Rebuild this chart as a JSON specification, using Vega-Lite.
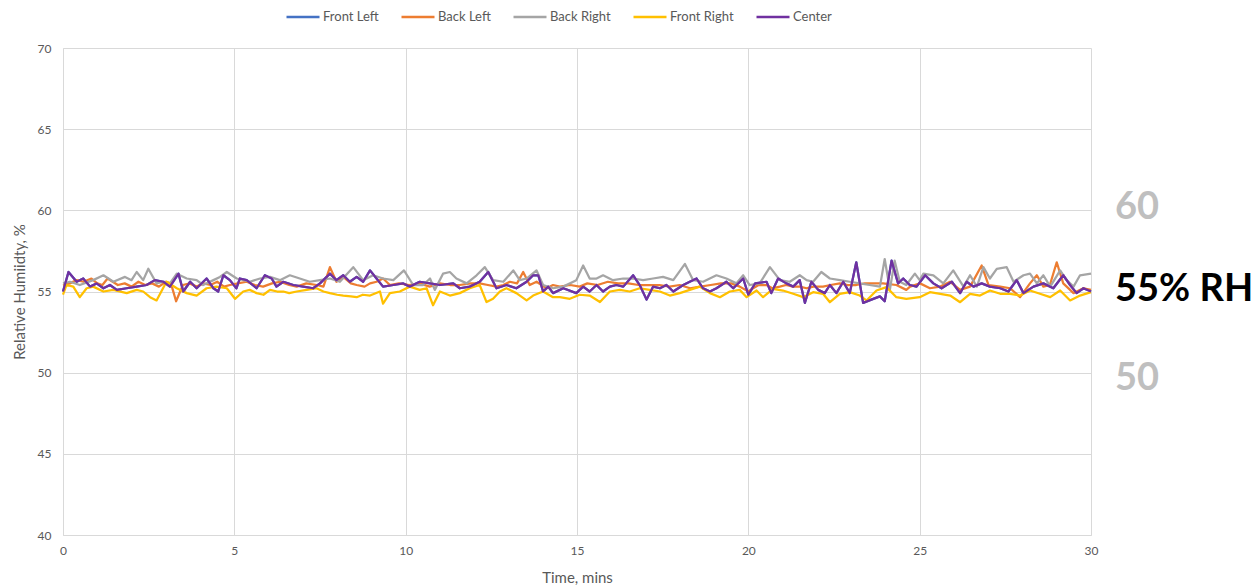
{
"$schema":"https://vega.github.io/schema/vega-lite/v6.json",
"width":1028,"height":487,
"autosize":{"type":"none"},
"padding":{"left":63,"top":48,"right":163,"bottom":52},
"background":"white",
"config":{"font":"Lato","view":{"stroke":null}},
"datasets":{
"Center":[{"t":0,"v":55.0},{"t":0.16,"v":56.2},{"t":0.4,"v":55.6},{"t":0.59,"v":55.8},{"t":0.79,"v":55.3},{"t":0.98,"v":55.5},{"t":1.18,"v":55.2},{"t":1.37,"v":55.4},{"t":1.57,"v":55.1},{"t":1.86,"v":55.2},{"t":2.15,"v":55.3},{"t":2.44,"v":55.4},{"t":2.68,"v":55.7},{"t":2.93,"v":55.6},{"t":3.12,"v":55.3},{"t":3.37,"v":56.1},{"t":3.51,"v":55.0},{"t":3.71,"v":55.6},{"t":3.9,"v":55.2},{"t":4.19,"v":55.8},{"t":4.39,"v":55.2},{"t":4.53,"v":55.0},{"t":4.68,"v":56.0},{"t":4.87,"v":55.7},{"t":5.06,"v":55.2},{"t":5.16,"v":55.8},{"t":5.36,"v":55.7},{"t":5.65,"v":55.2},{"t":5.89,"v":56.0},{"t":6.09,"v":55.8},{"t":6.23,"v":55.3},{"t":6.43,"v":55.6},{"t":6.72,"v":55.4},{"t":7.01,"v":55.3},{"t":7.3,"v":55.2},{"t":7.5,"v":55.5},{"t":7.79,"v":56.1},{"t":7.98,"v":55.7},{"t":8.18,"v":56.0},{"t":8.37,"v":55.6},{"t":8.57,"v":55.9},{"t":8.76,"v":55.6},{"t":8.96,"v":56.3},{"t":9.15,"v":55.8},{"t":9.34,"v":55.3},{"t":9.64,"v":55.4},{"t":9.93,"v":55.5},{"t":10.12,"v":55.3},{"t":10.41,"v":55.6},{"t":10.71,"v":55.5},{"t":11.0,"v":55.4},{"t":11.39,"v":55.5},{"t":11.58,"v":55.2},{"t":11.87,"v":55.3},{"t":12.16,"v":55.6},{"t":12.41,"v":56.2},{"t":12.65,"v":55.2},{"t":12.94,"v":55.4},{"t":13.23,"v":55.2},{"t":13.53,"v":55.6},{"t":13.72,"v":56.0},{"t":13.87,"v":56.0},{"t":14.01,"v":55.0},{"t":14.16,"v":55.3},{"t":14.3,"v":54.9},{"t":14.6,"v":55.2},{"t":14.98,"v":54.9},{"t":15.18,"v":55.3},{"t":15.37,"v":55.0},{"t":15.57,"v":55.4},{"t":15.76,"v":55.0},{"t":15.96,"v":55.3},{"t":16.15,"v":55.4},{"t":16.35,"v":55.3},{"t":16.64,"v":56.0},{"t":16.83,"v":55.4},{"t":17.03,"v":54.5},{"t":17.22,"v":55.3},{"t":17.42,"v":55.2},{"t":17.61,"v":55.4},{"t":17.81,"v":55.0},{"t":18.1,"v":55.4},{"t":18.29,"v":55.6},{"t":18.49,"v":55.8},{"t":18.68,"v":55.2},{"t":18.88,"v":55.0},{"t":19.07,"v":55.2},{"t":19.36,"v":55.6},{"t":19.56,"v":55.2},{"t":19.85,"v":55.8},{"t":20.0,"v":54.8},{"t":20.2,"v":55.5},{"t":20.53,"v":55.6},{"t":20.67,"v":54.9},{"t":20.87,"v":55.8},{"t":21.11,"v":55.5},{"t":21.31,"v":55.3},{"t":21.5,"v":55.7},{"t":21.65,"v":54.3},{"t":21.84,"v":55.6},{"t":22.04,"v":55.1},{"t":22.23,"v":54.9},{"t":22.38,"v":55.4},{"t":22.57,"v":54.9},{"t":22.77,"v":55.6},{"t":22.96,"v":54.9},{"t":23.15,"v":56.8},{"t":23.35,"v":54.3},{"t":23.59,"v":54.5},{"t":23.84,"v":54.7},{"t":23.98,"v":54.4},{"t":24.18,"v":56.9},{"t":24.37,"v":55.5},{"t":24.52,"v":55.8},{"t":24.71,"v":55.4},{"t":24.91,"v":55.3},{"t":25.16,"v":56.0},{"t":25.4,"v":55.5},{"t":25.64,"v":55.2},{"t":25.94,"v":55.6},{"t":26.18,"v":54.9},{"t":26.37,"v":55.6},{"t":26.57,"v":55.3},{"t":26.81,"v":55.5},{"t":27.05,"v":55.3},{"t":27.35,"v":55.2},{"t":27.59,"v":55.0},{"t":27.83,"v":55.7},{"t":28.03,"v":54.9},{"t":28.32,"v":55.3},{"t":28.61,"v":55.5},{"t":28.9,"v":55.2},{"t":29.19,"v":56.0},{"t":29.39,"v":55.4},{"t":29.58,"v":54.9},{"t":29.78,"v":55.2},{"t":30,"v":55.0}],
"Back Right":[{"t":0,"v":55.5},{"t":0.2,"v":55.6},{"t":0.49,"v":55.4},{"t":0.88,"v":55.7},{"t":1.18,"v":56.0},{"t":1.47,"v":55.6},{"t":1.81,"v":55.9},{"t":2.0,"v":55.7},{"t":2.15,"v":56.2},{"t":2.34,"v":55.7},{"t":2.49,"v":56.4},{"t":2.73,"v":55.5},{"t":2.93,"v":55.6},{"t":3.12,"v":55.5},{"t":3.32,"v":56.1},{"t":3.61,"v":55.8},{"t":3.9,"v":55.7},{"t":4.09,"v":55.4},{"t":4.39,"v":55.7},{"t":4.58,"v":55.9},{"t":4.78,"v":56.2},{"t":5.07,"v":55.8},{"t":5.45,"v":55.6},{"t":5.75,"v":55.8},{"t":6.04,"v":55.9},{"t":6.33,"v":55.7},{"t":6.62,"v":56.0},{"t":6.91,"v":55.8},{"t":7.2,"v":55.6},{"t":7.5,"v":55.7},{"t":7.79,"v":55.8},{"t":8.08,"v":55.6},{"t":8.47,"v":56.5},{"t":8.76,"v":55.7},{"t":9.05,"v":56.0},{"t":9.34,"v":55.8},{"t":9.64,"v":55.7},{"t":9.95,"v":56.3},{"t":10.22,"v":55.4},{"t":10.51,"v":55.4},{"t":10.71,"v":55.8},{"t":10.85,"v":55.1},{"t":11.09,"v":56.1},{"t":11.29,"v":56.2},{"t":11.48,"v":55.8},{"t":11.78,"v":55.5},{"t":12.07,"v":56.0},{"t":12.31,"v":56.5},{"t":12.55,"v":55.7},{"t":12.85,"v":55.6},{"t":13.14,"v":56.3},{"t":13.33,"v":55.7},{"t":13.53,"v":55.8},{"t":13.82,"v":56.3},{"t":14.01,"v":55.4},{"t":14.3,"v":55.2},{"t":14.6,"v":55.3},{"t":14.98,"v":55.7},{"t":15.18,"v":56.6},{"t":15.37,"v":55.8},{"t":15.57,"v":55.8},{"t":15.76,"v":56.0},{"t":16.05,"v":55.7},{"t":16.35,"v":55.8},{"t":16.64,"v":55.8},{"t":16.93,"v":55.7},{"t":17.22,"v":55.8},{"t":17.51,"v":55.9},{"t":17.81,"v":55.7},{"t":18.15,"v":56.7},{"t":18.39,"v":55.7},{"t":18.68,"v":55.6},{"t":19.07,"v":56.0},{"t":19.36,"v":55.8},{"t":19.65,"v":55.5},{"t":19.85,"v":56.0},{"t":20.04,"v":55.4},{"t":20.33,"v":55.5},{"t":20.63,"v":56.5},{"t":20.92,"v":55.7},{"t":21.21,"v":55.6},{"t":21.5,"v":56.0},{"t":21.7,"v":55.7},{"t":21.89,"v":55.6},{"t":22.13,"v":56.2},{"t":22.38,"v":55.8},{"t":22.67,"v":55.7},{"t":22.96,"v":55.6},{"t":23.25,"v":55.5},{"t":23.54,"v":55.4},{"t":23.84,"v":55.3},{"t":23.98,"v":57.0},{"t":24.13,"v":55.1},{"t":24.27,"v":56.9},{"t":24.42,"v":55.6},{"t":24.61,"v":55.4},{"t":24.86,"v":56.1},{"t":25.0,"v":55.7},{"t":25.11,"v":56.1},{"t":25.4,"v":56.0},{"t":25.69,"v":55.5},{"t":25.98,"v":56.3},{"t":26.28,"v":55.3},{"t":26.47,"v":56.0},{"t":26.67,"v":55.3},{"t":26.86,"v":56.5},{"t":27.05,"v":55.8},{"t":27.25,"v":56.4},{"t":27.54,"v":56.5},{"t":27.74,"v":55.6},{"t":28.03,"v":56.0},{"t":28.22,"v":56.1},{"t":28.42,"v":55.5},{"t":28.61,"v":56.0},{"t":28.81,"v":55.3},{"t":29.1,"v":56.3},{"t":29.29,"v":55.7},{"t":29.49,"v":55.3},{"t":29.68,"v":56.0},{"t":30,"v":56.1}],
"Back Left":[{"t":0,"v":55.4},{"t":0.2,"v":55.5},{"t":0.4,"v":55.7},{"t":0.6,"v":55.6},{"t":0.83,"v":55.8},{"t":1.0,"v":55.5},{"t":1.15,"v":55.4},{"t":1.3,"v":55.8},{"t":1.6,"v":55.4},{"t":1.8,"v":55.5},{"t":2.0,"v":55.3},{"t":2.2,"v":55.6},{"t":2.4,"v":55.4},{"t":2.6,"v":55.5},{"t":2.8,"v":55.3},{"t":3.0,"v":55.6},{"t":3.15,"v":55.5},{"t":3.3,"v":54.4},{"t":3.5,"v":55.4},{"t":3.7,"v":55.5},{"t":3.9,"v":55.3},{"t":4.1,"v":55.5},{"t":4.3,"v":55.4},{"t":4.5,"v":55.6},{"t":4.7,"v":55.3},{"t":4.87,"v":55.4},{"t":5.1,"v":55.5},{"t":5.36,"v":55.6},{"t":5.6,"v":55.4},{"t":5.84,"v":55.3},{"t":6.1,"v":55.5},{"t":6.33,"v":55.6},{"t":6.6,"v":55.4},{"t":6.82,"v":55.3},{"t":7.1,"v":55.5},{"t":7.4,"v":55.4},{"t":7.6,"v":55.3},{"t":7.79,"v":56.5},{"t":7.98,"v":55.6},{"t":8.18,"v":55.9},{"t":8.4,"v":55.5},{"t":8.57,"v":55.4},{"t":8.8,"v":55.3},{"t":8.96,"v":55.5},{"t":9.15,"v":55.6},{"t":9.34,"v":55.8},{"t":9.54,"v":55.4},{"t":9.8,"v":55.5},{"t":10.1,"v":55.4},{"t":10.41,"v":55.5},{"t":10.7,"v":55.3},{"t":11.0,"v":55.5},{"t":11.3,"v":55.4},{"t":11.58,"v":55.4},{"t":11.9,"v":55.5},{"t":12.16,"v":55.5},{"t":12.4,"v":55.4},{"t":12.65,"v":55.3},{"t":12.85,"v":55.4},{"t":13.04,"v":55.6},{"t":13.25,"v":55.5},{"t":13.43,"v":56.2},{"t":13.62,"v":55.4},{"t":13.82,"v":55.6},{"t":14.11,"v":55.2},{"t":14.3,"v":55.4},{"t":14.5,"v":55.3},{"t":14.8,"v":55.4},{"t":15.08,"v":55.3},{"t":15.3,"v":55.5},{"t":15.6,"v":55.4},{"t":15.9,"v":55.6},{"t":16.2,"v":55.5},{"t":16.5,"v":55.5},{"t":16.8,"v":55.4},{"t":17.1,"v":55.4},{"t":17.4,"v":55.4},{"t":17.7,"v":55.3},{"t":18.0,"v":55.4},{"t":18.3,"v":55.2},{"t":18.6,"v":55.3},{"t":18.9,"v":55.4},{"t":19.2,"v":55.5},{"t":19.5,"v":55.5},{"t":19.75,"v":55.3},{"t":20.0,"v":55.0},{"t":20.14,"v":55.2},{"t":20.3,"v":55.4},{"t":20.53,"v":55.4},{"t":20.7,"v":55.2},{"t":20.92,"v":55.3},{"t":21.1,"v":55.4},{"t":21.31,"v":55.3},{"t":21.5,"v":55.3},{"t":21.7,"v":55.2},{"t":21.9,"v":55.3},{"t":22.18,"v":55.3},{"t":22.4,"v":55.4},{"t":22.67,"v":55.5},{"t":22.9,"v":55.4},{"t":23.15,"v":55.4},{"t":23.4,"v":55.5},{"t":23.64,"v":55.5},{"t":23.93,"v":55.5},{"t":24.32,"v":55.4},{"t":24.61,"v":55.1},{"t":24.72,"v":55.3},{"t":25.01,"v":55.5},{"t":25.3,"v":55.2},{"t":25.6,"v":55.3},{"t":25.89,"v":55.6},{"t":26.18,"v":55.1},{"t":26.47,"v":55.3},{"t":26.81,"v":56.6},{"t":27.01,"v":55.4},{"t":27.35,"v":55.3},{"t":27.64,"v":55.2},{"t":27.93,"v":54.65},{"t":28.22,"v":55.5},{"t":28.42,"v":56.0},{"t":28.61,"v":55.3},{"t":28.8,"v":55.4},{"t":29.0,"v":56.8},{"t":29.19,"v":55.5},{"t":29.49,"v":54.9},{"t":29.78,"v":55.2},{"t":30,"v":55.1}],
"Front Right":[{"t":0,"v":54.8},{"t":0.1,"v":55.4},{"t":0.3,"v":55.3},{"t":0.49,"v":54.65},{"t":0.69,"v":55.2},{"t":0.88,"v":55.3},{"t":1.18,"v":55.0},{"t":1.47,"v":55.1},{"t":1.86,"v":54.9},{"t":2.15,"v":55.1},{"t":2.34,"v":55.0},{"t":2.54,"v":54.65},{"t":2.73,"v":54.45},{"t":3.02,"v":55.6},{"t":3.32,"v":55.2},{"t":3.61,"v":54.9},{"t":3.9,"v":54.75},{"t":4.19,"v":55.2},{"t":4.48,"v":55.3},{"t":4.78,"v":55.2},{"t":5.02,"v":54.55},{"t":5.26,"v":55.0},{"t":5.45,"v":55.1},{"t":5.65,"v":54.9},{"t":5.85,"v":54.8},{"t":6.04,"v":55.1},{"t":6.25,"v":55.0},{"t":6.43,"v":55.0},{"t":6.6,"v":54.9},{"t":6.82,"v":55.0},{"t":7.11,"v":55.1},{"t":7.4,"v":55.2},{"t":7.6,"v":55.0},{"t":7.79,"v":54.9},{"t":8.0,"v":54.8},{"t":8.18,"v":54.75},{"t":8.4,"v":54.7},{"t":8.57,"v":54.65},{"t":8.75,"v":54.8},{"t":8.96,"v":54.75},{"t":9.25,"v":55.0},{"t":9.34,"v":54.25},{"t":9.54,"v":54.9},{"t":9.83,"v":55.0},{"t":10.12,"v":55.3},{"t":10.41,"v":55.1},{"t":10.61,"v":55.2},{"t":10.8,"v":54.15},{"t":11.0,"v":55.0},{"t":11.29,"v":54.75},{"t":11.58,"v":54.9},{"t":11.87,"v":55.2},{"t":12.16,"v":55.4},{"t":12.36,"v":54.35},{"t":12.55,"v":54.55},{"t":12.75,"v":55.0},{"t":12.94,"v":55.2},{"t":13.23,"v":54.9},{"t":13.53,"v":54.45},{"t":13.72,"v":54.75},{"t":14.01,"v":55.0},{"t":14.3,"v":54.65},{"t":14.5,"v":54.65},{"t":14.79,"v":54.55},{"t":15.08,"v":54.8},{"t":15.37,"v":54.75},{"t":15.67,"v":54.35},{"t":15.96,"v":55.0},{"t":16.25,"v":55.1},{"t":16.54,"v":55.0},{"t":16.83,"v":55.2},{"t":17.12,"v":55.1},{"t":17.42,"v":55.0},{"t":17.71,"v":54.75},{"t":18.0,"v":54.9},{"t":18.29,"v":55.1},{"t":18.58,"v":55.3},{"t":18.88,"v":54.9},{"t":19.17,"v":54.65},{"t":19.46,"v":55.0},{"t":19.75,"v":55.1},{"t":19.95,"v":54.65},{"t":20.24,"v":55.06},{"t":20.43,"v":54.65},{"t":20.72,"v":55.16},{"t":21.01,"v":55.06},{"t":21.31,"v":54.86},{"t":21.6,"v":54.65},{"t":21.89,"v":54.96},{"t":22.18,"v":54.86},{"t":22.38,"v":54.34},{"t":22.67,"v":54.86},{"t":22.96,"v":54.96},{"t":23.25,"v":54.75},{"t":23.45,"v":54.45},{"t":23.74,"v":55.06},{"t":24.03,"v":55.27},{"t":24.32,"v":54.65},{"t":24.61,"v":54.55},{"t":25.0,"v":54.65},{"t":25.3,"v":54.96},{"t":25.6,"v":54.86},{"t":25.89,"v":54.75},{"t":26.18,"v":54.34},{"t":26.47,"v":54.86},{"t":26.76,"v":54.75},{"t":27.05,"v":55.06},{"t":27.35,"v":54.86},{"t":27.64,"v":54.86},{"t":27.93,"v":54.75},{"t":28.22,"v":55.06},{"t":28.51,"v":54.86},{"t":28.81,"v":54.65},{"t":29.1,"v":55.06},{"t":29.39,"v":54.45},{"t":29.68,"v":54.75},{"t":30,"v":54.96}],
"notes":[{"label":"60","v":60.15,"kind":"guide"},{"label":"55% RH","v":55.1,"kind":"target"},{"label":"50","v":49.6,"kind":"guide"}]
},
"encoding":{
"x":{"field":"t","type":"quantitative","scale":{"domain":[0,30],"nice":false},
 "axis":{"title":"Time, mins","values":[0,5,10,15,20,25,30],"grid":true,"gridColor":"#D9D9D9","domainColor":"#D9D9D9","ticks":false,"labelPadding":10,"labelFontSize":12,"labelColor":"#595959","labelFlush":false,"titleFontSize":15,"titleColor":"#595959","titleFontWeight":"normal","titlePadding":14}},
"y":{"field":"v","type":"quantitative","scale":{"domain":[40,70],"nice":false,"zero":false},
 "axis":{"title":"Relative Humiidty, %","values":[40,45,50,55,60,65,70],"grid":true,"gridColor":"#D9D9D9","domainColor":"#D9D9D9","ticks":false,"labelPadding":12,"labelFontSize":12,"labelColor":"#595959","titleFontSize":15,"titleColor":"#595959","titleFontWeight":"normal","titlePadding":10}}
},
"layer":[
{"data":{"name":"Center"},"mark":{"type":"line","strokeWidth":2.25,"strokeJoin":"round"},
 "encoding":{"color":{"datum":"Front Left","type":"nominal",
  "scale":{"domain":["Front Left","Back Left","Back Right","Front Right","Center"],"range":["#4472C4","#ED7D31","#A5A5A5","#FFC000","#7030A0"]},
  "legend":{"orient":"none","legendX":222,"legendY":-49,"direction":"horizontal","title":null,"symbolType":"stroke","symbolStrokeWidth":2.5,"symbolSize":1089,"labelFontSize":13,"labelColor":"#595959","labelOffset":2,"columnPadding":17,"padding":0}}}},
{"data":{"name":"Back Left"},"mark":{"type":"line","strokeWidth":2.25,"strokeJoin":"round"},"encoding":{"color":{"datum":"Back Left","type":"nominal"}}},
{"data":{"name":"Back Right"},"mark":{"type":"line","strokeWidth":2.25,"strokeJoin":"round"},"encoding":{"color":{"datum":"Back Right","type":"nominal"}}},
{"data":{"name":"Front Right"},"mark":{"type":"line","strokeWidth":2.25,"strokeJoin":"round"},"encoding":{"color":{"datum":"Front Right","type":"nominal"}}},
{"data":{"name":"Center"},"mark":{"type":"line","strokeWidth":2.25,"strokeJoin":"round"},"encoding":{"color":{"datum":"Center","type":"nominal"}}},
{"data":{"name":"notes"},"mark":{"type":"text","align":"left","baseline":"middle","fontSize":38,"fontWeight":"bold","dx":24},
 "encoding":{"x":{"value":"width"},"y":{"field":"v","type":"quantitative"},"text":{"field":"label","type":"nominal"},
  "color":{"condition":{"test":"datum.kind === 'target'","value":"#000000"},"value":"#BFBFBF"}}}
]
}
